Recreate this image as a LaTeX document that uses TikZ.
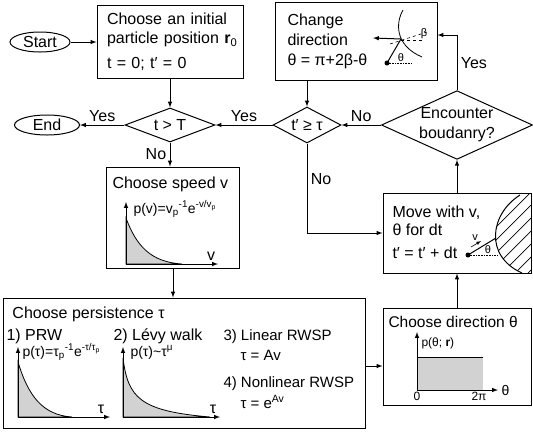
\documentclass[tikz,border=0pt]{standalone}
\usepackage{fontspec}
\setmainfont{Liberation Sans}
\usetikzlibrary{shapes.geometric,positioning}

\begin{document}
\begin{tikzpicture}[x=1pt, y=-1pt, node distance=83pt, >=latex, line width=1pt,
  font=\fontsize{16}{20}\selectfont,
  block/.style={rectangle, draw, inner sep=0pt},
  term/.style={ellipse, draw, inner sep=1pt, minimum height=20pt},
  decision/.style={diamond, draw, inner sep=0pt, aspect=2.2},
  lbl/.style={anchor=base west, inner sep=0pt},
  formula/.style={anchor=base west, inner sep=0pt, font=\fontsize{14}{16}\selectfont},
  tiny/.style={inner sep=0pt, font=\fontsize{11}{12}\selectfont},
  curvefill/.style={fill=gray!35, line width=0.8pt}]
  \useasboundingbox (0,0) rectangle (533,432);
  % flow chart
  \node[term, minimum width=60pt] (start) at (40,42) {Start};
  \node[block, right of=start, node distance=130pt, minimum width=146pt, minimum height=73pt, text width=126pt, align=left, font=\fontsize{16}{19}\selectfont] (init) {Choose an initial\\\mbox{particle position \textbf{r}\textsubscript{0}}\\[6pt]t = 0; t′ = 0};
  \node[decision, below of=init, minimum width=90pt, minimum height=34pt] (tT) {t > T};
  \node[term, left of=tT, node distance=123pt, minimum width=65pt] (endn) {End};
  \node[block, below of=tT, node distance=92.5pt, xshift=3pt, minimum width=133pt, minimum height=101pt] (speed) {};
  \node[block, below of=speed, node distance=145.5pt, xshift=11pt, minimum width=362pt, minimum height=130pt] (persist) {};
  \node[block, right of=persist, node distance=273pt, yshift=6.5pt, minimum width=148pt, minimum height=97pt] (direction) {};
  \node[block, above of=direction, node distance=123.5pt, minimum width=148pt, minimum height=80pt] (move) {};
  \node[decision, above of=move, node distance=108pt, minimum width=144pt, minimum height=66pt, align=center] (enc) {Encounter\\boudanry?};
  \node[decision, left of=enc, node distance=150pt, minimum width=68pt, minimum height=36pt] (tp) {t′ ≥ τ};
  \node[block, above of=tp, node distance=84pt, xshift=49pt, minimum width=162pt, minimum height=78pt] (change) {};
  \draw[->] (start) -- (init);
  \draw[->] (init) -- (tT);
  \draw[->] (tT) -- node[above] {Yes} (endn);
  \draw[->] (tp) -- node[above] {Yes} (tT);
  \draw[->] (tT.south) -- node[left] {No} (tT.south |- speed.north);
  \draw[->] (speed.south) -- (speed.south |- persist.north);
  \draw[->] ([yshift=-3pt]persist.east) -- ([yshift=-3pt]persist.east -| direction.west);
  \draw[->] (direction) -- (move);
  \draw[->] (move) -- (enc);
  \draw[->] (enc.north) |- node[pos=0.25, right] {Yes} ([yshift=6pt]change.east);
  \draw[->] (enc) -- node[above] {No} (tp);
  \draw[->] (tp.north |- change.south) -- (tp.north);
  \draw[->] (tp.south) |- node[pos=0.2, right] {No} (move.west);
  % change direction
  \node[lbl, anchor=north west, align=left] (changelbl) at (287,13) {Change\\direction\\θ = π+2β-θ};
  \draw[line width=0.8pt] (403,10) .. controls (396,22) and (394,45) .. (422,57);
  \draw[dashed, line width=0.6pt] (390,44) -- (427,32);
  \draw[dashed, line width=0.6pt] (401,40) -- (422,40);
  \node[tiny] (betalbl) at (424,34) {β};
  \draw[->] (401,39) -- (373,38);
  \draw (387,63) -- (401,39);
  \fill (387,63) circle (2.5pt);
  \draw[densely dotted, line width=0.6pt] (387,63) -- (412,63);
  \node[tiny] (thetaA) at (401,58) {θ};
  % move
  \node[lbl, anchor=north west, align=left, font=\fontsize{16}{18}\selectfont] (movelbl) at (392,205) {Move with v,\\θ for dt\\[5pt]t′ = t′ + dt};
  \begin{scope}
    \clip (520,195) .. controls (490,214) and (484,256) .. (522,273) -- (531,273) -- (531,193) -- cycle;
    \foreach \k in {0,...,8} \draw[line width=0.7pt] (430+\k*13,280) -- ++(100,-100);
  \end{scope}
  \draw (520,195) .. controls (490,214) and (484,256) .. (522,273);
  \fill (468,255) circle (2.5pt);
  \draw (468,255) -- (496,238);
  \draw[densely dotted, line width=0.6pt] (468,255) -- (498,255);
  \draw[->, line width=0.6pt] (471,247) -- (481,241);
  \node[tiny] (vlbl) at (475,238) {v};
  \node[tiny] (thetaB) at (488,250) {θ};
  % speed
  \node[lbl] (speedlbl) at (112,188) {Choose speed v};
  \node[formula] (speedpdf) at (133,213) {p(v)=v\textsubscript{p}\textsuperscript{-1}e\textsuperscript{-v/v\textsubscript{p}}};
  \draw[curvefill] (126,218) .. controls (136,245) and (150,262) .. (182,264) -- (126,264) -- cycle;
  \draw[<->] (126,202) -- (126,264) -- (218,264);
  \node[anchor=south, inner sep=1pt] (vaxis) at (211,262) {v};
  % persistence
  \node[lbl] (persistlbl) at (12,318) {Choose persistence τ};
  \node[lbl] (prwlbl) at (6,340) {1) PRW};
  \node[formula] (prwpdf) at (22,356) {p(τ)=τ\textsubscript{p}\textsuperscript{-1}e\textsuperscript{-τ/τ\textsubscript{p}}};
  \draw[curvefill] (18,362) .. controls (28,395) and (42,415) .. (72,417) -- (18,417) -- cycle;
  \draw[<->] (18,347) -- (18,417) -- (110,417);
  \node[anchor=south, inner sep=1pt] (tauaxisA) at (101,415) {τ};
  \node[lbl] (levylbl) at (113,340) {2) Lévy walk};
  \node[formula] (levypdf) at (130,356) {p(τ)\textasciitilde τ\textsuperscript{μ}};
  \draw[curvefill] (123,358) .. controls (128,398) and (140,411) .. (210,417) -- (123,417) -- cycle;
  \draw[<->] (123,347) -- (123,417) -- (220,417);
  \node[anchor=south, inner sep=1pt] (tauaxisB) at (213,415) {τ};
  \node[lbl, font=\fontsize{15}{18}\selectfont] (linlbl) at (223,340) {3) Linear RWSP};
  \node[lbl, font=\fontsize{15}{18}\selectfont] (linform) at (240,360) {τ = Av};
  \node[lbl, font=\fontsize{15}{18}\selectfont] (nonlbl) at (223,387) {4) Nonlinear RWSP};
  \node[lbl, font=\fontsize{15}{18}\selectfont] (nonform) at (240,408) {τ = e\textsuperscript{Av}};
  % direction
  \node[lbl, font=\fontsize{15.5}{18}\selectfont] (dirlbl) at (388,327) {Choose direction θ};
  \fill[gray!35] (417,357) rectangle (483,390);
  \draw (417,357) -- (483,357);
  \draw[<->] (417,332) -- (417,390) -- (498,390);
  \node[lbl, font=\fontsize{12}{14}\selectfont] (dirpdf) at (421,346) {p(θ; \textbf{r})};
  \node[anchor=north, inner sep=1pt, font=\fontsize{12}{14}\selectfont] (zero) at (417,391) {0};
  \node[anchor=north, inner sep=1pt, font=\fontsize{12}{14}\selectfont] (twopi) at (479,391) {2π};
  \node[anchor=west, inner sep=1pt, font=\fontsize{14}{16}\selectfont] (thetaaxis) at (500,390) {θ};
\end{tikzpicture}
\end{document}
